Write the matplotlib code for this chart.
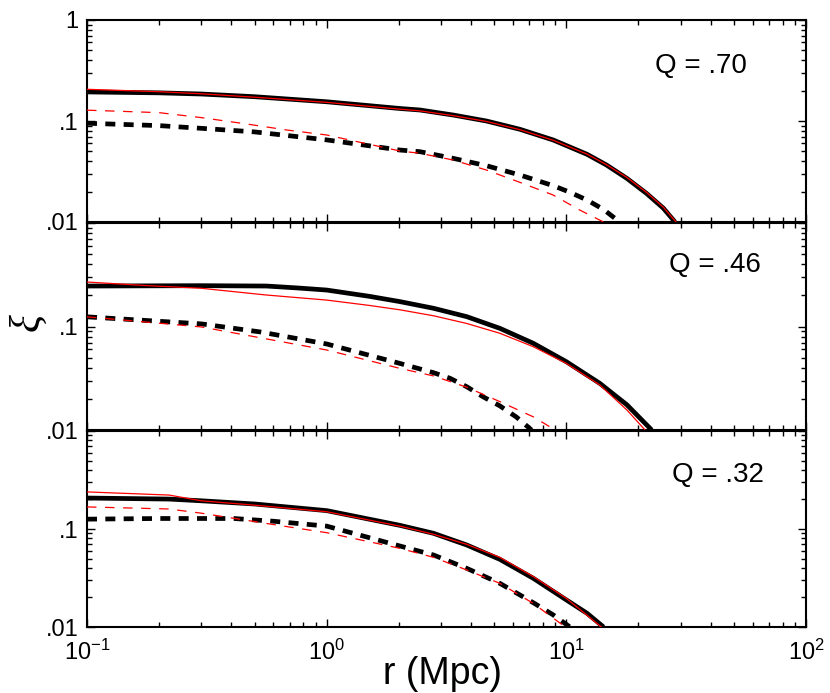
import matplotlib
matplotlib.use("Agg")
import matplotlib.pyplot as plt
from matplotlib.ticker import FixedLocator, FixedFormatter, LogLocator, NullFormatter

plt.rcParams['font.family'] = ['Liberation Sans', 'DejaVu Sans']
plt.rcParams['mathtext.fontset'] = 'custom'
plt.rcParams['mathtext.rm'] = 'Liberation Sans'
plt.rcParams['mathtext.it'] = 'Liberation Sans:italic'
plt.rcParams['lines.scale_dashes'] = False

# ---------------- data ----------------
q_labels = ["Q = .70", "Q = .46", "Q = .32"]

# panel 1 (Q = .70)
p1_bs_x = [0.1, 0.2, 0.3, 0.5, 1.0, 2.02, 2.45, 3.37, 4.64, 6.4, 8.81, 12.2, 14.7, 17.9, 21.6, 25.4, 28.4]
p1_bs_y = [0.194, 0.19, 0.185, 0.174, 0.155, 0.133, 0.1285, 0.1146, 0.100, 0.0828, 0.0649, 0.0468, 0.0367, 0.027, 0.0192, 0.0137, 0.01]
p1_rs_x = [0.1, 0.2, 0.3, 0.5, 1.0, 2.02, 2.45, 3.37, 4.64, 6.4, 8.81, 12.2, 14.7, 17.9, 21.6, 25.4, 28.7]
p1_rs_y = [0.206, 0.195, 0.186, 0.172, 0.153, 0.131, 0.126, 0.113, 0.099, 0.082, 0.0645, 0.047, 0.037, 0.0276, 0.0197, 0.014, 0.01]
p1_bd_x = [0.1, 0.2, 0.3, 0.5, 1.0, 2.02, 2.45, 3.37, 4.64, 6.4, 8.81, 10.35, 12.2, 14.3, 16.7]
p1_bd_y = [0.095, 0.090, 0.0846, 0.078, 0.065, 0.0516, 0.0497, 0.0427, 0.0361, 0.0292, 0.0229, 0.0197, 0.0165, 0.0133, 0.01]
p1_rd_x = [0.1, 0.2, 0.3, 0.47, 0.68, 1.0, 2.02, 2.45, 3.37, 4.64, 6.4, 8.81, 11.4, 14.3]
p1_rd_y = [0.128, 0.121, 0.108, 0.093, 0.0815, 0.0727, 0.0505, 0.0479, 0.0411, 0.0327, 0.0247, 0.0185, 0.0131, 0.01]

# panel 2 (Q = .46)
p2_bs_x = [0.1, 0.3, 0.56, 0.75, 1.0, 1.5, 2.02, 2.79, 3.84, 5.28, 7.28, 10.0, 13.8, 17.9, 22.7]
p2_bs_y = [0.246, 0.248, 0.246, 0.236, 0.225, 0.196, 0.174, 0.150, 0.1245, 0.096, 0.0688, 0.0457, 0.0282, 0.0175, 0.01]
p2_rs_x = [0.1, 0.18, 0.3, 0.56, 1.0, 1.5, 2.02, 2.79, 3.84, 5.28, 7.28, 10.0, 13.8, 17.9, 21.3]
p2_rs_y = [0.269, 0.248, 0.234, 0.2015, 0.180, 0.160, 0.145, 0.127, 0.107, 0.086, 0.0638, 0.044, 0.0272, 0.0156, 0.01]
p2_bd_x = [0.1, 0.3, 0.53, 1.0, 2.02, 2.79, 3.27, 3.84, 4.5, 5.28, 6.2, 7.16]
p2_bd_y = [0.124, 0.106, 0.0885, 0.0678, 0.044, 0.0358, 0.0316, 0.0262, 0.0209, 0.0171, 0.0133, 0.01]
p2_rd_x = [0.1, 0.3, 1.0, 2.02, 2.79, 3.84, 5.28, 7.28, 8.98]
p2_rd_y = [0.124, 0.099, 0.0593, 0.0394, 0.0333, 0.0259, 0.0188, 0.0134, 0.01]

# panel 3 (Q = .32)
p3_bs_x = [0.1, 0.22, 0.3, 0.5, 1.0, 2.02, 2.79, 3.84, 5.28, 7.28, 10.0, 12.2, 14.3]
p3_bs_y = [0.207, 0.202, 0.194, 0.180, 0.154, 0.109, 0.0904, 0.0687, 0.049, 0.0314, 0.0189, 0.0138, 0.01]
p3_rs_x = [0.1, 0.22, 0.3, 0.5, 1.0, 2.02, 2.79, 3.84, 5.28, 7.28, 10.0, 14.0]
p3_rs_y = [0.239, 0.222, 0.194, 0.175, 0.150, 0.107, 0.0883, 0.0698, 0.0514, 0.0327, 0.0196, 0.01]
p3_bd_x = [0.1, 0.2, 0.3, 0.41, 0.6, 1.0, 2.02, 2.79, 3.84, 5.28, 7.28, 8.81, 10.35]
p3_bd_y = [0.126, 0.128, 0.128, 0.128, 0.120, 0.107, 0.0671, 0.0543, 0.0397, 0.0279, 0.0177, 0.0133, 0.01]
p3_rd_x = [0.1, 0.22, 0.3, 0.6, 1.0, 2.02, 2.79, 3.84, 5.28, 7.28, 9.9]
p3_rd_y = [0.168, 0.16, 0.145, 0.111, 0.0917, 0.0635, 0.0514, 0.0382, 0.0279, 0.0174, 0.01]

panels = [
    (p1_bs_x, p1_bs_y, p1_rs_x, p1_rs_y, p1_bd_x, p1_bd_y, p1_rd_x, p1_rd_y),
    (p2_bs_x, p2_bs_y, p2_rs_x, p2_rs_y, p2_bd_x, p2_bd_y, p2_rd_x, p2_rd_y),
    (p3_bs_x, p3_bs_y, p3_rs_x, p3_rs_y, p3_bd_x, p3_bd_y, p3_rd_x, p3_rd_y),
]

x_ticks = [0.1, 1, 10, 100]
x_ticklabels = [r'$\mathdefault{10^{-1}}$', r'$\mathdefault{10^{0}}$',
                r'$\mathdefault{10^{1}}$', r'$\mathdefault{10^{2}}$']
y_ticks = [0.01, 0.1, 1]
y_ticklabels_top = ['.01', '.1', '1']
y_ticklabels_other = ['.01', '.1', '']

# ---------------- figure ----------------
W, H = 830, 693
fig = plt.figure(figsize=(W / 100, H / 100), dpi=100)

left, right = 87, 806
rows = [(20, 222), (223, 430), (431, 627)]
q_pos = [(655, 73), (669, 272), (672, 482)]   # left, baseline in pixels

for i, ((top, bot), data, ql, qp) in enumerate(zip(rows, panels, q_labels, q_pos)):
    ax = fig.add_axes([left / W, 1 - bot / H, (right - left) / W, (bot - top) / H])
    bsx, bsy, rsx, rsy, bdx, bdy, rdx, rdy = data
    ax.plot(bsx, bsy, color='black', lw=3.4, solid_capstyle='butt', zorder=3)
    ax.plot(rsx, rsy, color='red', lw=0.9, zorder=4)
    ax.plot(bdx, bdy, color='black', lw=3.4, dashes=(7.2, 6.0), dash_capstyle='butt', zorder=3)
    ax.plot(rdx, rdy, color='red', lw=0.9, dashes=(6.8, 6.2), zorder=4)

    ax.set_xscale('log')
    ax.set_yscale('log')
    ax.set_xlim(0.1, 100)
    ax.set_ylim(0.01, 1)

    ax.xaxis.set_major_locator(FixedLocator(x_ticks))
    ax.xaxis.set_minor_locator(LogLocator(base=10, subs=range(2, 10), numticks=20))
    ax.yaxis.set_major_locator(FixedLocator(y_ticks))
    ax.yaxis.set_minor_locator(LogLocator(base=10, subs=range(2, 10), numticks=20))
    ax.xaxis.set_minor_formatter(NullFormatter())
    ax.yaxis.set_minor_formatter(NullFormatter())
    ax.yaxis.set_major_formatter(FixedFormatter(y_ticklabels_top if i == 0 else y_ticklabels_other))
    if i == 2:
        ax.xaxis.set_major_formatter(FixedFormatter(x_ticklabels))
    else:
        ax.xaxis.set_major_formatter(NullFormatter())

    ax.tick_params(which='both', direction='in', top=True, right=True, width=1.0)
    ax.tick_params(which='major', length=6, labelsize=17, pad=6)
    ax.tick_params(which='minor', length=3.5)
    ax.tick_params(axis='x', which='major', pad=9)
    for s in ax.spines.values():
        s.set_linewidth(1.5)

    fig.text(qp[0] / W, 1 - qp[1] / H, ql, fontsize=20, ha='left', va='baseline')

fig.text(28 / W, 1 - 322 / H, 'ξ', family=['Liberation Serif', 'DejaVu Serif'],
         style='italic', fontsize=30, rotation=90, ha='center', va='center')
fig.text(442 / W, 1 - 684 / H, 'r (Mpc)', fontsize=27, ha='center', va='baseline')

fig.savefig('out.png', dpi=100)
